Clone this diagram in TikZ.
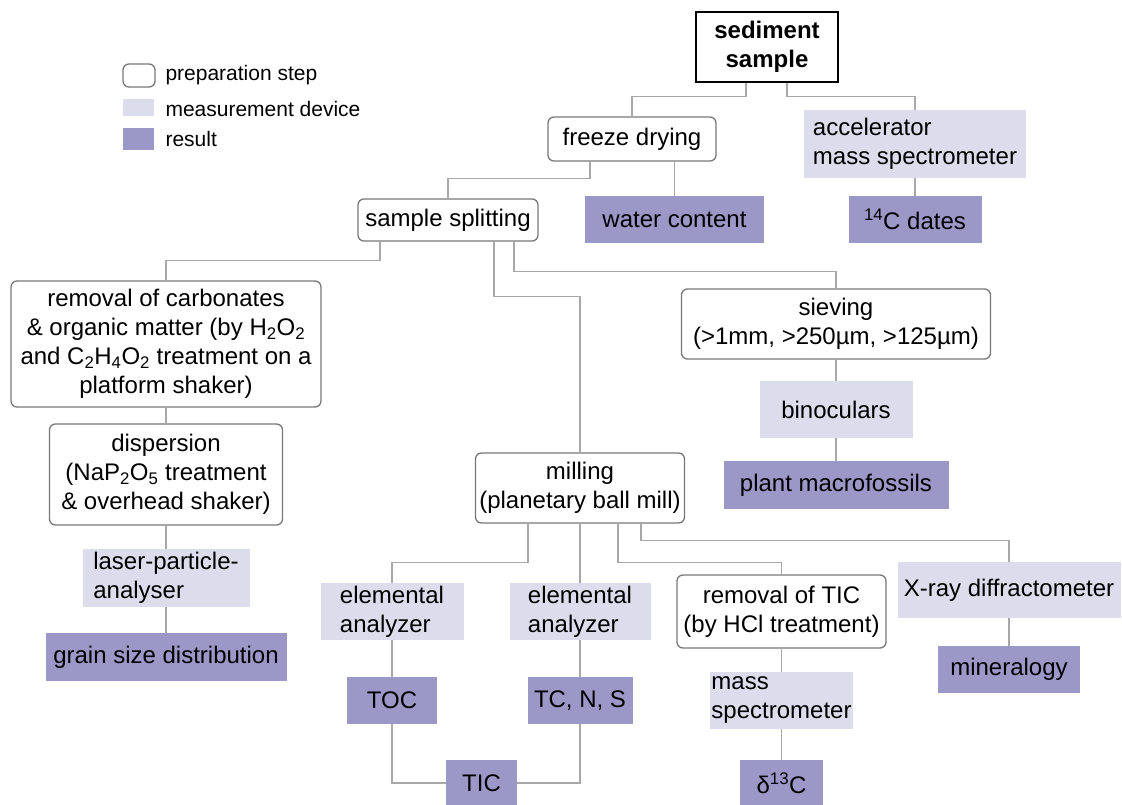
\documentclass[tikz,border=0pt]{standalone}
\usepackage{fontspec}
\setmainfont{Liberation Sans}
\definecolor{devfill}{RGB}{220,220,236}
\definecolor{resfill}{RGB}{155,152,200}
\definecolor{linegray}{RGB}{168,168,168}
\definecolor{boxgray}{RGB}{120,120,120}
\tikzstyle{prep}=[
        draw = boxgray,
        line width = 1.3pt,
        rounded corners = 6pt,
        fill = white,
        align = center,
        inner sep = 0pt
    ]
\tikzstyle{device}=[
    fill = devfill,
    align = left,
    inner sep = 0pt
]
\tikzstyle{result}=[
    fill = resfill,
    align = center,
    inner sep = 0pt
]
\tikzstyle{link}=[
    draw = linegray,
    line width = 1.4pt
]

\begin{document}
\begin{tikzpicture}[x=1pt, y=-1pt, font=\fontsize{24}{29}\selectfont,
        wh/.style 2 args = {minimum width=#1pt, minimum height=#2pt},
        legend/.style = {anchor=west, font=\fontsize{21}{25}\selectfont}]
        \useasboundingbox (0,0) rectangle (1122,805);

        % legend
        \node[prep, wh={32}{23}] (lgprep) at (139,75.5) {};
        \node[device, wh={31}{17}] (lgdev) at (138.5,107.5) {};
        \node[result, wh={31}{22}] (lgres) at (138.5,139) {};
        \node[legend] (lgprept) at (162,75) {preparation step};
        \node[legend] (lgdevt) at (162,109) {measurement device};
        \node[legend] (lgrest) at (162,139) {result};

        % top
        \node[draw, line width=1.5pt, align=center, inner sep=0pt, wh={142}{70},
              font=\fontsize{24}{29}\selectfont\bfseries] (sed) at (767,47) {sediment\\sample};
        \node[prep, wh={168}{44}] (freeze) at (632,139) {freeze drying};
        \node[device, wh={222}{68}] (acc) at (915,144) {accelerator\\mass spectrometer};
        \node[result, wh={179}{47}] (water) at (674.5,219.5) {water content};
        \node[result, wh={133}{47}] (c14) at (915,219.5) {\textsuperscript{14}C dates};
        \node[prep, wh={180}{42}] (split) at (448,220) {sample splitting};

        % left branch
        \node[prep, wh={310}{126}] (removal) at (166,344)
            {removal of carbonates\\ \& organic matter (by H\textsubscript{2}O\textsubscript{2}\\and C\textsubscript{2}H\textsubscript{4}O\textsubscript{2} treatment on a\\platform shaker)};
        \node[prep, wh={233}{101}] (disp) at (166,474.5)
            {dispersion\\(NaP\textsubscript{2}O\textsubscript{5} treatment\\\& overhead shaker)};
        \node[device, wh={167}{58}] (laser) at (166,578) {laser-particle-\\analyser};
        \node[result, wh={241}{48}] (grain) at (166,657) {grain size distribution};

        % right branch
        \node[prep, wh={309}{70}] (sieve) at (836,324) {sieving\\(>1mm, >250µm, >125µm)};
        \node[device, wh={153}{57}] (binoc) at (836,409.5) {binoculars};
        \node[result, wh={225}{48}] (plant) at (836,485) {plant macrofossils};

        % milling branch
        \node[prep, wh={209}{70}] (mill) at (580,488) {milling\\(planetary ball mill)};
        \node[device, wh={143}{57}] (el1) at (392,611.5) {elemental\\analyzer};
        \node[device, wh={141}{57}] (el2) at (580,611.5) {elemental\\analyzer};
        \node[result, wh={90}{47}] (toc) at (392,700.5) {TOC};
        \node[result, wh={105}{47}] (tcns) at (580,700.5) {TC, N, S};
        \node[result, wh={71}{46}] (tic) at (481.5,783) {TIC};
        \node[prep, wh={209}{73}] (rtic) at (781.5,611.5) {removal of TIC\\(by HCl treatment)};
        \node[device, wh={143}{57}] (ms) at (781.5,700.5) {mass\\spectrometer};
        \node[result, wh={83}{46}] (d13) at (781.5,783) {δ\textsuperscript{13}C};
        \node[device, wh={223}{56}] (xray) at (1009,590) {X-ray diffractometer};
        \node[result, wh={142}{47}] (mineral) at (1009,669.5) {mineralogy};

        \draw[link] ([xshift=-21pt]sed.south) -- ++(0,14) -| (freeze.north);
        \draw[link] ([xshift=20pt]sed.south) -- ++(0,14) -| (acc.north);
        \draw[link] (freeze.south -| water.north) -- (water.north);
        \draw[link] (acc.south) -- (c14.north);
        \draw[link] ([xshift=-42pt]freeze.south) -- ++(0,17) -| (split.north);

        \draw[link] ([xshift=-68pt]split.south) -- ++(0,19) -| (removal.north);
        \draw[link] ([xshift=46pt]split.south) -- ++(0,55) -| (mill.north);
        \draw[link] ([xshift=66pt]split.south) -- ++(0,30) -| (sieve.north);

        \draw[link] (removal.south) -- (disp.north);
        \draw[link] (disp.south) -- (laser.north);
        \draw[link] (laser.south) -- (grain.north);

        \draw[link] (sieve.south) -- (binoc.north);
        \draw[link] (binoc.south) -- (plant.north);

        \draw[link] ([xshift=-52pt]mill.south) -- ++(0,39) -| (el1.north);
        \draw[link] (mill.south) -- (el2.north);
        \draw[link] ([xshift=38pt]mill.south) -- ++(0,39) -| (rtic.north);
        \draw[link] ([xshift=61pt]mill.south) -- ++(0,17) -| (xray.north);
        \draw[link] (el1.south) -- (toc.north);
        \draw[link] (el2.south) -- (tcns.north);
        \draw[link] (toc.south) |- (tic.west);
        \draw[link] (tcns.south) |- (tic.east);
        \draw[link] (rtic.south) -- (ms.north);
        \draw[link] (ms.south) -- (d13.north);
        \draw[link] (xray.south) -- (mineral.north);

    \end{tikzpicture}
\end{document}
